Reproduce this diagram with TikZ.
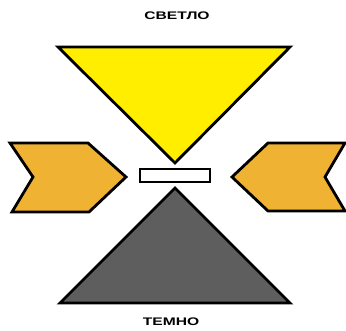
\documentclass[tikz,border=0pt]{standalone}
\usepackage{fontspec}
\setmainfont{Liberation Sans}
\definecolor{tyellow}{HTML}{FFEE00}
\definecolor{torange}{HTML}{F0B232}
\definecolor{tgray}{HTML}{5E5E5E}
\begin{document}
\begin{tikzpicture}[x=1pt,y=-1pt,
  shapeline/.style={draw=black,line width=2.8pt,line join=miter},
  label/.style={font=\fontsize{11}{11}\selectfont\bfseries,inner sep=0pt,xscale=1.42}]
\useasboundingbox (0,0) rectangle (346,331);
\fill[white] (0,0) rectangle (346,331);
% yellow triangle
\draw[shapeline,fill=tyellow] (58,47) -- (290,47) -- (175,163) -- cycle;
% gray triangle
\draw[shapeline,fill=tgray] (175,188) -- (290,303) -- (60,303) -- cycle;
% left chevron
\draw[shapeline,fill=torange] (10,143) -- (88,143) -- (126,177) -- (89,212) -- (12,212) -- (33,177) -- cycle;
% right chevron
\draw[shapeline,fill=torange] (268,143) -- (345,143) -- (325,177) -- (345,211) -- (268,211) -- (232,177) -- cycle;
% slit
\draw[shapeline,fill=white,line width=2.4pt] (140,169) rectangle (210,182);
% labels
\node[label] (light) at (177,16) {СВЕТЛО};
\node[label] (dark) at (171,322) {ТЕМНО};
\end{tikzpicture}
\end{document}
